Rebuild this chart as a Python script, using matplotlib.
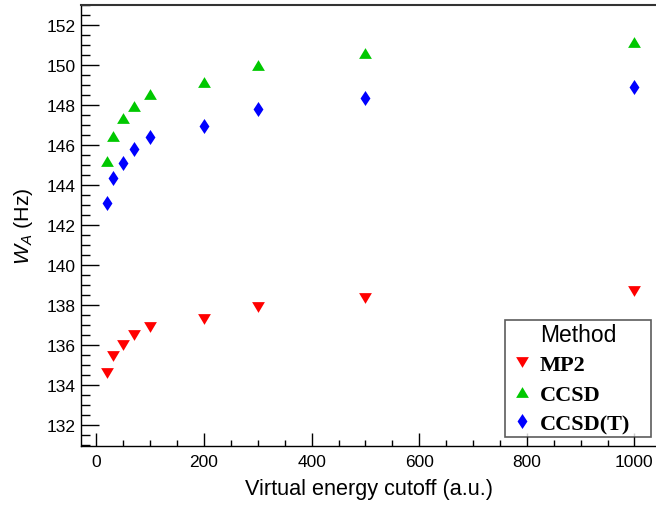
import matplotlib
matplotlib.use("Agg")
import matplotlib.pyplot as plt
from matplotlib.ticker import MultipleLocator

plt.rcParams['font.family'] = ['Liberation Sans', 'DejaVu Sans']
plt.rcParams['mathtext.fontset'] = 'custom'
plt.rcParams['mathtext.it'] = 'Liberation Sans:italic'
plt.rcParams['mathtext.rm'] = 'Liberation Sans'

cutoff = [20, 30, 50, 70, 100, 200, 300, 500, 1000]
mp2 = [134.6, 135.47, 135.98, 136.48, 136.9, 137.3, 137.9, 138.35, 138.7]
ccsd = [145.18, 146.47, 147.33, 147.97, 148.57, 149.13, 150.02, 150.6, 151.13]
ccsdt = [143.08, 144.33, 145.12, 145.8, 146.42, 146.93, 147.8, 148.37, 148.88]
labels = ['MP2', 'CCSD', 'CCSD(T)']

up_tri = [(0, 0.84), (1, -0.84), (-1, -0.84), (0, 0.84)]
down_tri = [(0, -0.84), (1, 0.84), (-1, 0.84), (0, -0.84)]
diamond = [(0, 1), (0.66, 0), (0, -1), (-0.66, 0), (0, 1)]

fig = plt.figure(figsize=(6.56, 5.06), dpi=100)
ax = fig.add_axes([81 / 656, 59 / 506, (657 - 81) / 656, 441 / 506])

ax.plot(cutoff, mp2, linestyle='none', marker=down_tri, markersize=9.2,
        color='#ff0000', markeredgewidth=0, label=labels[0])
ax.plot(cutoff, ccsd, linestyle='none', marker=up_tri, markersize=9.2,
        color='#00c800', markeredgewidth=0, label=labels[1])
ax.plot(cutoff, ccsdt, linestyle='none', marker=diamond, markersize=10.8,
        color='#0000ff', markeredgewidth=0, label=labels[2])

ax.set_xlim(-28.7, 1042)
ax.set_ylim(130.95, 153.0)
ax.xaxis.set_major_locator(MultipleLocator(200))
ax.xaxis.set_minor_locator(MultipleLocator(50))
ax.yaxis.set_major_locator(MultipleLocator(2))
ax.yaxis.set_minor_locator(MultipleLocator(0.5))
ax.tick_params(axis='both', which='both', direction='in', top=False, right=False,
               labelsize=12.5, width=1.0, color='black')
ax.tick_params(axis='x', which='major', length=9.4, pad=6)
ax.tick_params(axis='x', which='minor', length=4.3)
ax.tick_params(axis='y', which='major', length=12.7, pad=4)
ax.tick_params(axis='y', which='minor', length=6.3)
for s in ['left', 'bottom']:
    ax.spines[s].set_linewidth(1.0)
ax.spines['top'].set_linewidth(1.5)
ax.spines['top'].set_color('#333333')

ax.set_xlabel('Virtual energy cutoff (a.u.)', fontsize=15.6, labelpad=6)
ax.set_ylabel(r'$W_{A}$ (Hz)', fontsize=15.4, labelpad=8)

x0 = (505 - 81) / 576
w = (651 - 505) / 576
ytop = (447 - 321) / 441
leg = ax.legend(title='Method', loc='upper left', mode='expand',
                bbox_to_anchor=(x0, 0, w, ytop),
                frameon=True, fancybox=False, edgecolor='#333333',
                prop={'family': 'Liberation Serif', 'weight': 'bold', 'size': 16},
                title_fontsize=16.5, handletextpad=0.15, borderaxespad=0,
                labelspacing=0.4, handlelength=1.3, borderpad=0.12)
leg.get_frame().set_linewidth(1.2)

fig.savefig('out.png', dpi=100)
